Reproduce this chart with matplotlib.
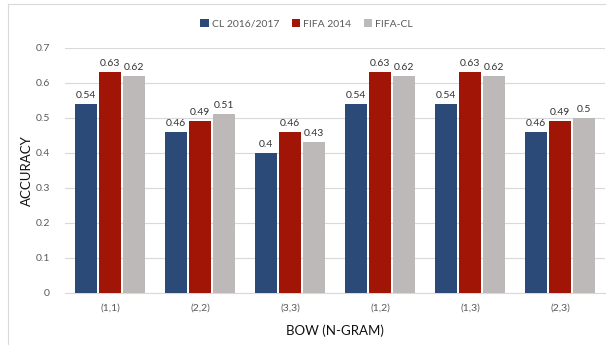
import matplotlib.pyplot as plt
import matplotlib.lines as mlines
import numpy as np

plt.rcParams['font.family'] = ['Lato', 'DejaVu Sans']

categories = ['(1,1)', '(2,2)', '(3,3)', '(1,2)', '(1,3)', '(2,3)']
series_names = ['CL 2016/2017', 'FIFA 2014', 'FIFA-CL']
cl_2016 = [0.54, 0.46, 0.40, 0.54, 0.54, 0.46]
fifa_2014 = [0.63, 0.49, 0.46, 0.63, 0.63, 0.49]
fifa_cl = [0.62, 0.51, 0.43, 0.62, 0.62, 0.50]
yticks = [0, 0.1, 0.2, 0.3, 0.4, 0.5, 0.6, 0.7]

colors = ['#2C4A78', '#A01505', '#BDB9B8']

fig = plt.figure(figsize=(6.13, 3.45), dpi=100)
ax = fig.add_axes([0.106, 0.151, 0.881, 0.71])

x = np.arange(len(categories))
width = 0.25
gap = 0.03
for i, (vals, name, c) in enumerate(zip([cl_2016, fifa_2014, fifa_cl], series_names, colors)):
    pos = x + (i - 1) * (width + gap * 0.5)
    bars = ax.bar(pos, vals, width * 0.95, color=c, label=name, zorder=3)
    for b, v in zip(bars, vals):
        ax.text(b.get_x() + b.get_width() / 2, v + 0.012, f'{v:g}',
                ha='center', va='bottom', fontsize=7.5, color='#333333')

ax.set_xlim(-0.5, len(categories) - 0.5)
ax.set_ylim(0, 0.7)
ax.set_yticks(yticks)
ax.set_yticklabels([f'{t:g}' for t in yticks])
ax.set_xticks(x)
ax.set_xticklabels(categories)
ax.tick_params(axis='both', length=0, labelsize=7.5, labelcolor='#595959')
ax.tick_params(axis='y', pad=11)
ax.tick_params(axis='x', pad=8)
ax.grid(axis='y', color='#D9D9D9', linewidth=0.8, zorder=0)
for side in ['top', 'right', 'left']:
    ax.spines[side].set_visible(False)
ax.spines['bottom'].set_color('#D9D9D9')

ax.set_ylabel('ACCURACY', fontsize=9.5, color='#111111')
ax.yaxis.set_label_coords((33 - 65) / 540, 0.5)
ax.set_xlabel('BOW (N-GRAM)', fontsize=9.5, color='#111111', labelpad=8)

fig.legend(*ax.get_legend_handles_labels(), loc='center', bbox_to_anchor=(0.5, 1 - 24 / 345),
           ncol=3, frameon=False, fontsize=7.5, labelcolor='#595959',
           handlelength=0.8, handleheight=0.8, handletextpad=0.3, columnspacing=1.2)

# chart frame
fig.add_artist(mlines.Line2D([8 / 613, 605 / 613], [1 - 4 / 345, 1 - 4 / 345],
                             color='#D9D9D9', linewidth=0.8))
fig.add_artist(mlines.Line2D([8 / 613, 8 / 613], [0, 1 - 4 / 345],
                             color='#D9D9D9', linewidth=0.8))

fig.savefig('out.png', dpi=100)
